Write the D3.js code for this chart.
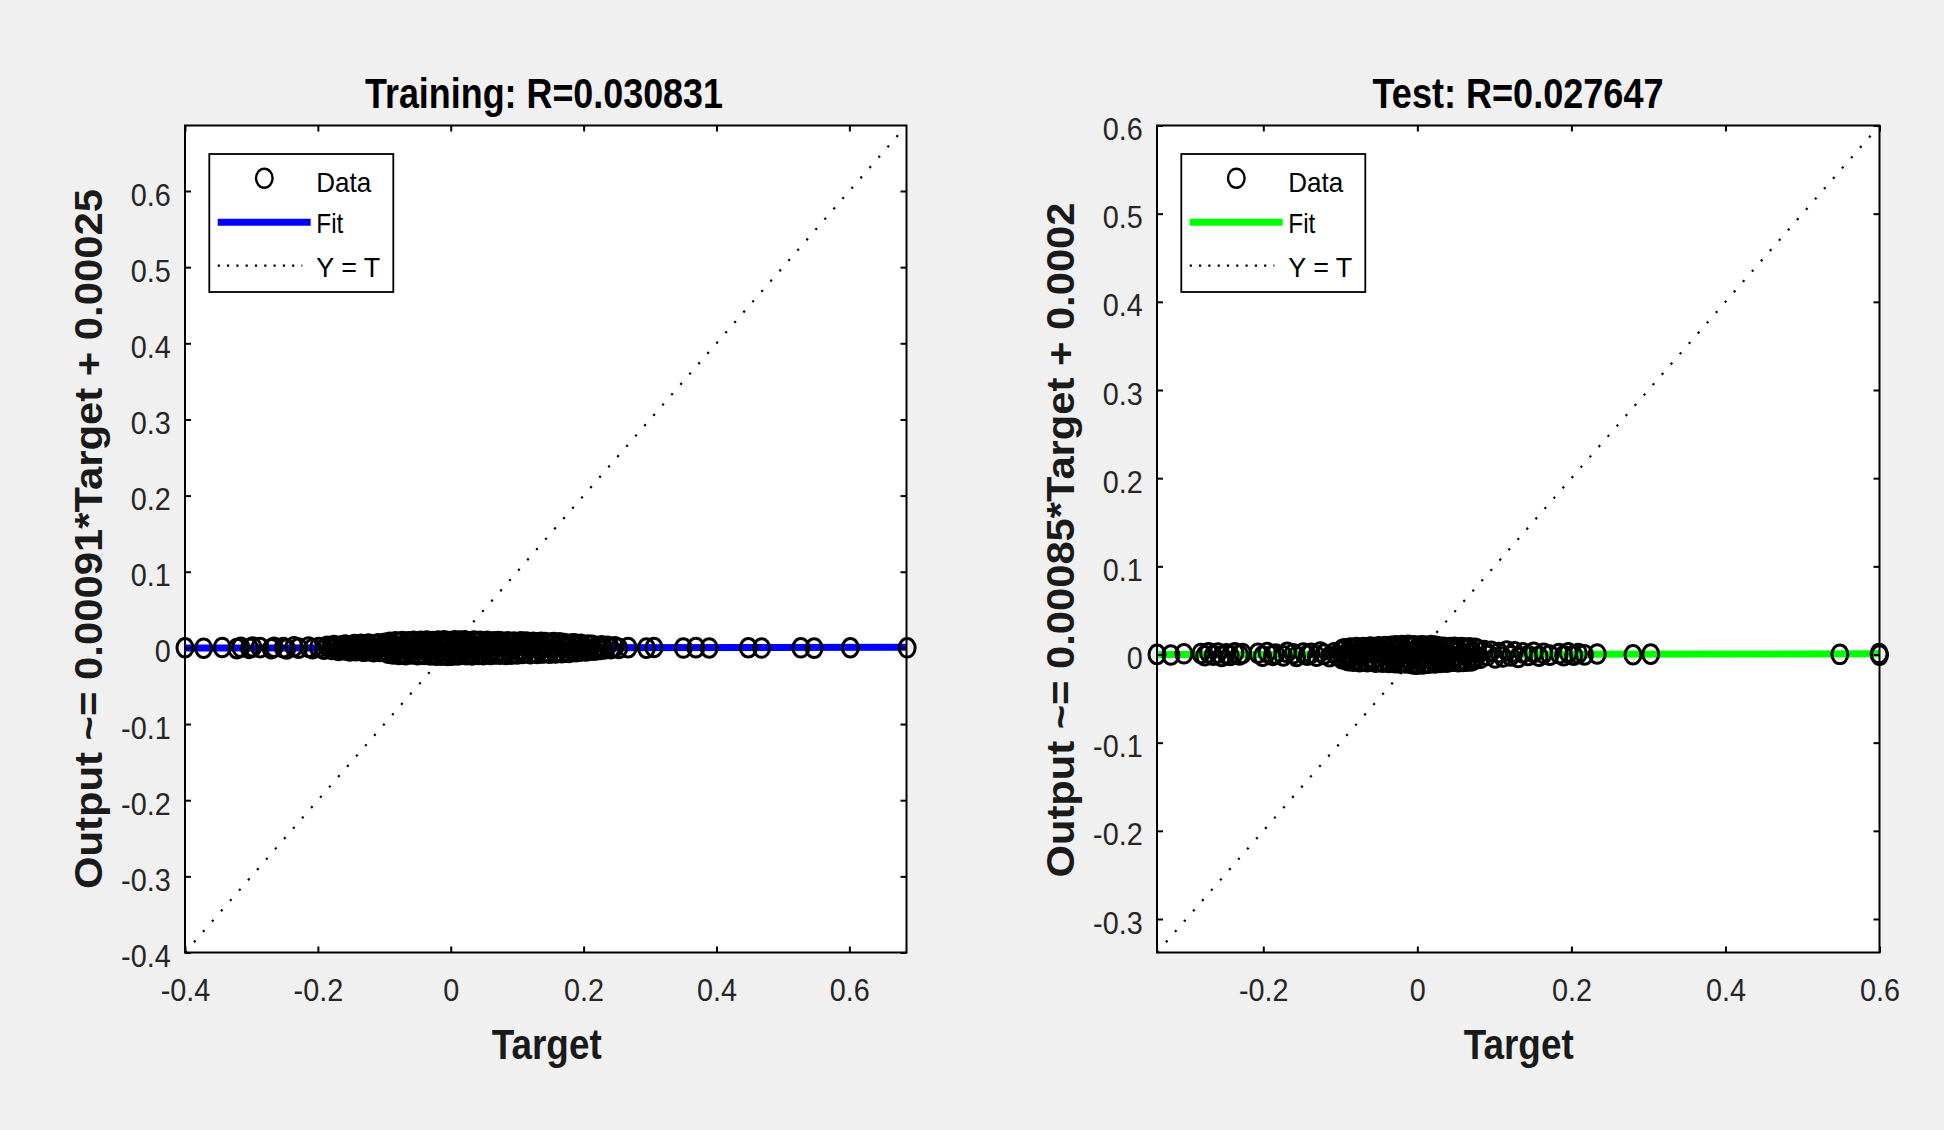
<!DOCTYPE html>
<html><head><meta charset="utf-8">
<script src="https://cdn.jsdelivr.net/npm/d3@7"></script>
<style>html,body{margin:0;padding:0;background:#f0f0f0;}svg{display:block;}</style>
</head><body>
<script>
// ---------- data (target, output) ----------
const trainData = [
[-0.400,0.0002],[-0.372,-0.0004],[-0.344,0.0006],[-0.322,-0.0010],[-0.316,0.0008],[-0.303,-0.0006],[-0.298,0.0012],[-0.287,0.0003],[-0.270,-0.0011],[-0.266,0.0009],
[-0.252,0.0004],[-0.247,-0.0014],[-0.236,0.0015],[-0.229,-0.0003],[-0.214,0.0010],[-0.208,-0.0012],[-0.199,0.0006],[-0.191,-0.0018],[-0.186,0.0021],
[-0.181,0.0012],[-0.179,-0.0021],[-0.176,0.0030],[-0.174,-0.0008],[-0.172,0.0017],[-0.169,-0.0034],[-0.167,0.0006],[-0.164,0.0026],[-0.162,-0.0019],[-0.159,0.0038],
[-0.157,-0.0029],[-0.155,0.0009],[-0.152,-0.0041],[-0.150,0.0022],[-0.147,-0.0012],[-0.145,0.0043],[-0.143,-0.0036],[-0.140,0.0015],[-0.138,-0.0024],[-0.135,0.0047],
[-0.133,-0.0005],[-0.131,-0.0045],[-0.128,0.0031],[-0.126,-0.0017],[-0.124,0.0052],[-0.121,-0.0039],[-0.119,0.0008],[-0.116,-0.0050],[-0.114,0.0041],[-0.112,-0.0011],
[-0.109,0.0055],[-0.107,-0.0047],[-0.104,0.0019],[-0.102,-0.0028],
[-0.099,0.0061],[-0.097,-0.0054],[-0.096,0.0012],[-0.094,-0.0069],[-0.092,0.0073],[-0.090,-0.0023],[-0.089,0.0044],[-0.087,-0.0078],[-0.085,0.0029],[-0.083,0.0080],
[-0.082,-0.0041],[-0.080,0.0008],[-0.078,-0.0085],[-0.077,0.0066],[-0.075,-0.0016],[-0.073,0.0083],[-0.071,-0.0062],[-0.070,0.0037],[-0.068,-0.0088],[-0.066,0.0021],
[-0.064,0.0079],[-0.063,-0.0034],[-0.061,0.0058],[-0.059,-0.0081],[-0.057,0.0005],[-0.056,0.0086],[-0.054,-0.0057],[-0.052,0.0031],[-0.050,-0.0090],[-0.049,0.0070],
[-0.047,-0.0013],[-0.045,0.0088],[-0.043,-0.0072],[-0.042,0.0046],[-0.040,-0.0087],[-0.038,0.0015],[-0.036,0.0091],[-0.035,-0.0049],[-0.033,0.0063],[-0.031,-0.0093],
[-0.029,0.0027],[-0.028,0.0084],[-0.026,-0.0067],[-0.024,0.0052],[-0.022,-0.0095],[-0.021,0.0009],[-0.019,0.0090],[-0.017,-0.0038],[-0.015,0.0071],[-0.014,-0.0097],
[-0.012,0.0036],[-0.010,0.0093],[-0.008,-0.0076],[-0.007,0.0018],[-0.005,-0.0099],[-0.003,0.0082],[-0.001,-0.0044],[0.000,0.0059],[0.002,-0.0096],[0.004,0.0024],
[0.006,0.0094],[0.007,-0.0061],[0.009,0.0047],[0.011,-0.0091],[0.013,0.0007],[0.014,0.0089],[0.016,-0.0080],[0.018,0.0033],[0.020,-0.0052],[0.021,0.0092],
[0.023,-0.0088],[0.025,0.0014],[0.027,0.0077],[0.028,-0.0070],[0.030,0.0050],[0.032,-0.0093],[0.034,0.0028],[0.035,0.0090],[0.037,-0.0039],[0.039,0.0066],
[0.041,-0.0085],[0.042,0.0003],[0.044,0.0087],[0.046,-0.0064],[0.048,0.0042],[0.049,-0.0089],[0.051,0.0075],[0.053,-0.0021],[0.055,0.0085],[0.056,-0.0074],
[0.058,0.0019],[0.060,-0.0087],[0.062,0.0068],[0.063,-0.0031],[0.065,0.0081],[0.067,-0.0079],[0.069,0.0035],[0.070,-0.0058],[0.072,0.0084],[0.074,-0.0083],
[0.076,0.0011],[0.077,0.0078],[0.079,-0.0068],[0.081,0.0049],[0.083,-0.0086],[0.084,0.0025],[0.086,0.0080],[0.088,-0.0046],[0.090,0.0063],[0.091,-0.0082],
[0.093,0.0006],[0.095,0.0076],[0.097,-0.0071],[0.098,0.0040],
[0.100,-0.0078],[0.102,0.0069],[0.104,-0.0025],[0.106,0.0080],[0.108,-0.0073],[0.110,0.0032],[0.112,-0.0064],[0.114,0.0077],[0.116,-0.0012],[0.118,0.0060],
[0.120,-0.0076],[0.122,0.0017],[0.124,0.0074],[0.126,-0.0056],[0.128,0.0045],[0.130,-0.0072],[0.132,0.0066],[0.134,-0.0030],[0.136,0.0073],[0.138,-0.0068],
[0.140,0.0008],[0.142,0.0070],[0.145,-0.0061],[0.147,0.0038],[0.149,-0.0070],[0.151,0.0064],[0.153,-0.0019],[0.155,0.0071],[0.158,-0.0065],[0.160,0.0026],
[0.162,-0.0048],[0.164,0.0067],[0.167,-0.0063],[0.169,0.0013],[0.171,0.0058],[0.174,-0.0057],[0.176,0.0041],[0.178,-0.0060],[0.181,0.0052],[0.183,-0.0022],
[0.186,0.0055],[0.188,-0.0050],[0.191,0.0029],[0.193,-0.0044],[0.196,0.0047],[0.199,-0.0036],[0.201,0.0010],[0.204,-0.0041],[0.207,0.0038],[0.210,-0.0026],
[0.213,0.0033],[0.216,-0.0031],[0.220,0.0018],[0.223,-0.0022],[0.227,0.0027],[0.231,-0.0015],[0.236,0.0020],[0.241,-0.0009],[0.247,0.0014],[0.253,-0.0006],
[0.267,0.0004],[0.2945,-0.0003],[0.306,0.0005],[0.350,-0.0002],[0.369,0.0003],[0.389,-0.0001],[0.448,0.0002],[0.468,-0.0002],[0.527,0.0001],[0.547,-0.0003],
[0.6015,0.0002],[0.687,0.0001]
];

const testData = [
[-0.338,0.0001],[-0.320,-0.0006],[-0.303,0.0008],
[-0.281,0.0012],[-0.276,-0.0015],[-0.271,0.0020],[-0.265,-0.0009],[-0.259,0.0016],[-0.254,-0.0021],[-0.248,0.0007],[-0.243,-0.0012],[-0.237,0.0019],[-0.231,-0.0004],[-0.227,0.0011],
[-0.207,0.0014],[-0.201,-0.0018],[-0.195,0.0022],[-0.188,-0.0010],[-0.184,0.0006],
[-0.174,-0.0016],[-0.169,0.0024],[-0.161,0.0009],[-0.157,-0.0022],[-0.148,0.0017],[-0.143,-0.0008],[-0.138,0.0013],[-0.131,-0.0019],[-0.126,0.0028],[-0.121,0.0004],
[-0.114,-0.0025],[-0.108,0.0020],[-0.104,-0.0013],
[-0.100,0.0035],[-0.098,-0.0047],[-0.097,0.0058],[-0.095,-0.0012],[-0.094,0.0066],[-0.092,-0.0061],[-0.090,0.0021],[-0.089,-0.0070],[-0.087,0.0072],[-0.086,-0.0030],
[-0.084,0.0049],[-0.083,-0.0076],[-0.081,0.0009],[-0.079,0.0078],[-0.078,-0.0055],[-0.076,0.0040],[-0.075,-0.0081],[-0.073,0.0063],[-0.072,-0.0018],[-0.070,0.0080],
[-0.068,-0.0069],[-0.067,0.0026],[-0.065,-0.0083],[-0.064,0.0071],[-0.062,-0.0038],[-0.061,0.0084],[-0.059,-0.0073],[-0.057,0.0015],[-0.056,0.0079],[-0.054,-0.0086],
[-0.053,0.0044],[-0.051,-0.0027],[-0.050,0.0086],[-0.048,-0.0079],[-0.046,0.0057],[-0.045,-0.0088],[-0.043,0.0022],[-0.042,0.0089],[-0.040,-0.0064],[-0.039,0.0068],
[-0.037,-0.0090],[-0.035,0.0031],[-0.034,0.0092],[-0.032,-0.0075],[-0.031,0.0051],[-0.029,-0.0093],[-0.028,0.0098],[-0.026,-0.0046],[-0.024,0.0075],[-0.023,-0.0095],
[-0.021,0.0012],[-0.020,0.0101],[-0.018,-0.0082],[-0.017,0.0060],[-0.015,-0.0097],[-0.013,0.0037],[-0.012,0.0103],[-0.010,-0.0068],[-0.009,0.0083],[-0.007,-0.0104],
[-0.006,0.0019],[-0.004,0.0099],[-0.002,-0.0110],[-0.001,0.0056],[0.001,-0.0108],[0.002,0.0091],[0.004,-0.0052],[0.005,0.0100],[0.007,-0.0106],[0.009,0.0028],
[0.010,0.0097],[0.012,-0.0091],[0.013,0.0065],[0.015,-0.0099],[0.016,0.0006],[0.018,0.0101],[0.020,-0.0077],[0.021,0.0047],[0.023,-0.0095],[0.024,0.0094],
[0.026,-0.0035],[0.027,0.0088],[0.029,-0.0089],[0.031,0.0024],[0.032,-0.0084],[0.034,0.0082],[0.035,-0.0058],[0.037,0.0061],[0.038,-0.0087],[0.040,0.0014],
[0.042,0.0079],[0.043,-0.0080],[0.045,0.0043],[0.046,-0.0072],[0.048,0.0083],[0.049,-0.0025],[0.051,0.0076],[0.053,-0.0083],[0.054,0.0033],[0.056,-0.0066],
[0.057,0.0080],[0.059,-0.0078],[0.060,0.0010],[0.062,0.0072],[0.064,-0.0075],[0.065,0.0054],[0.067,-0.0044],[0.068,0.0077],[0.070,-0.0073],[0.072,0.0026],
[0.073,-0.0062],[0.075,0.0069],[0.076,-0.0036],[0.078,0.0058],
[0.082,-0.0041],[0.087,0.0045],[0.091,-0.0012],[0.096,0.0036],[0.101,-0.0038],[0.106,0.0022],[0.111,-0.0029],[0.116,0.0040],[0.121,-0.0016],[0.126,0.0031],
[0.131,-0.0034],[0.137,0.0019],
[0.144,-0.0011],[0.151,0.0024],[0.158,-0.0020],[0.164,0.0013],[0.172,-0.0007],[0.184,0.0010],[0.190,-0.0015],[0.196,0.0018],[0.203,-0.0009],[0.209,0.0012],
[0.217,-0.0004],[0.2335,0.0006],[0.280,-0.0003],[0.303,0.0004],[0.5485,0.0002],[0.5995,0.0011],[0.600,-0.0007]
];

const trainXTicks = [-0.4, -0.2, 0, 0.2, 0.4, 0.6];
const trainYTicks = [-0.4, -0.3, -0.2, -0.1, 0, 0.1, 0.2, 0.3, 0.4, 0.5, 0.6];
const testXTicks = [-0.2, 0, 0.2, 0.4, 0.6];
const testYTicks = [-0.3, -0.2, -0.1, 0, 0.1, 0.2, 0.3, 0.4, 0.5, 0.6];
const trainLim = [-0.4, 0.686];
const testLim = [-0.338, 0.6];
const trainFit = [0.00091, 0.00025];   // slope, intercept
const testFit = [0.00085, 0.0002];
const titles = ["Training: R=0.030831", "Test: R=0.027647"];
const yLabels = ["Output ~= 0.00091*Target + 0.00025", "Output ~= 0.00085*Target + 0.0002"];
const xLabelText = "Target";
const legendLabels = ["Data", "Fit", "Y = T"];

// ---------- drawing ----------
const W = 1944, H = 1130;
const FONT = "'Liberation Sans', Arial, Helvetica, sans-serif";
const svg = d3.select("body").append("svg").attr("width", W).attr("height", H);
svg.append("rect").attr("width", W).attr("height", H).attr("fill", "#f0f0f0");

const fmt = d => String(+d.toFixed(1));

function drawPanel(p) {
  const g = svg.append("g");
  const x = d3.scaleLinear().domain(p.lim).range([p.left, p.right]);
  const y = d3.scaleLinear().domain(p.lim).range([p.bottom, p.top]);

  g.append("rect").attr("x", p.left).attr("y", p.top)
    .attr("width", p.right - p.left).attr("height", p.bottom - p.top).attr("fill", "#fff");

  // Y = T dotted line
  g.append("line")
    .attr("x1", x(p.lim[0])).attr("y1", y(p.lim[0]))
    .attr("x2", x(p.lim[1])).attr("y2", y(p.lim[1]))
    .attr("stroke", "#000").attr("stroke-width", 2.2).attr("stroke-dasharray", "2.2 11.5");

  // Fit line
  const fitLine = d3.line().x(d => x(d)).y(d => y(p.fit[0] * d + p.fit[1]));
  g.append("path").datum(p.lim).attr("d", fitLine)
    .attr("fill", "none").attr("stroke", p.color).attr("stroke-width", 7);

  // Data points
  g.append("g").selectAll("ellipse").data(p.data).join("ellipse")
    .attr("cx", d => x(d[0])).attr("cy", d => y(d[1]))
    .attr("rx", 8).attr("ry", 9.3)
    .attr("fill", "none").attr("stroke", "#000").attr("stroke-width", 3);

  // Axes
  const styleAxis = sel => {
    sel.select(".domain").remove();
    sel.attr("font-family", FONT).attr("font-size", 32);
    sel.selectAll(".tick line").attr("stroke", "#000").attr("stroke-width", 2);
  };
  const bx = g.append("g").attr("transform", `translate(0,${p.bottom})`)
    .call(d3.axisBottom(x).tickValues(p.xTicks).tickSizeInner(-6).tickSizeOuter(0).tickFormat(fmt));
  styleAxis(bx);
  bx.selectAll(".tick text").attr("y", 49).attr("dy", "0").attr("fill", "#262626")
    .attr("transform", "scale(0.9,1)");

  const tx = g.append("g").attr("transform", `translate(0,${p.top})`)
    .call(d3.axisTop(x).tickValues(p.xTicks).tickSizeInner(-6).tickSizeOuter(0).tickFormat(""));
  styleAxis(tx); tx.selectAll("text").remove();

  const ly = g.append("g").attr("transform", `translate(${p.left},0)`)
    .call(d3.axisLeft(y).tickValues(p.yTicks).tickSizeInner(-6).tickSizeOuter(0).tickFormat(fmt));
  styleAxis(ly);
  ly.selectAll(".tick text").attr("x", -14.3 / 0.9).attr("dy", "0.44em").attr("fill", "#262626")
    .attr("text-anchor", "end").attr("transform", "scale(0.9,1)");

  const ry = g.append("g").attr("transform", `translate(${p.right},0)`)
    .call(d3.axisRight(y).tickValues(p.yTicks).tickSizeInner(-6).tickSizeOuter(0).tickFormat(""));
  styleAxis(ry); ry.selectAll("text").remove();

  // Frame
  g.append("rect").attr("x", p.left).attr("y", p.top)
    .attr("width", p.right - p.left).attr("height", p.bottom - p.top)
    .attr("fill", "none").attr("stroke", "#000").attr("stroke-width", 2);

  // Title
  g.append("text").attr("x", p.titleX).attr("y", 108.3).attr("text-anchor", "middle")
    .attr("font-family", FONT).attr("font-weight", "bold").attr("font-size", 42)
    .attr("textLength", p.titleLen).attr("lengthAdjust", "spacingAndGlyphs")
    .attr("fill", "#000").text(p.title);

  // X label
  g.append("text").attr("x", p.xLabelX).attr("y", 1059).attr("text-anchor", "middle")
    .attr("font-family", FONT).attr("font-weight", "bold").attr("font-size", 42)
    .attr("textLength", 110).attr("lengthAdjust", "spacingAndGlyphs")
    .attr("fill", "#1a1a1a").text(xLabelText);

  // Y label
  g.append("text").attr("transform", `translate(${p.yLabelX},${p.yLabelY}) rotate(-90)`)
    .attr("text-anchor", "middle")
    .attr("font-family", FONT).attr("font-weight", "bold").attr("font-size", 38)
    .attr("textLength", p.yLabelLen).attr("lengthAdjust", "spacingAndGlyphs")
    .attr("fill", "#1a1a1a").text(p.yLabel);

  // Legend
  const lx = p.left + 24.3, lyy = p.top + 28.5;
  const lg = g.append("g");
  lg.append("rect").attr("x", lx).attr("y", lyy).attr("width", 184).attr("height", 138)
    .attr("fill", "#fff").attr("stroke", "#000").attr("stroke-width", 1.8);
  lg.append("ellipse").attr("cx", lx + 55).attr("cy", lyy + 24.3).attr("rx", 8.3).attr("ry", 9.5)
    .attr("fill", "none").attr("stroke", "#000").attr("stroke-width", 2.4);
  lg.append("line").attr("x1", lx + 8.4).attr("x2", lx + 101.4).attr("y1", lyy + 68.3).attr("y2", lyy + 68.3)
    .attr("stroke", p.color).attr("stroke-width", 7);
  lg.append("line").attr("x1", lx + 8.4).attr("x2", lx + 93).attr("y1", lyy + 111.7).attr("y2", lyy + 111.7)
    .attr("stroke", "#000").attr("stroke-width", 2.2).attr("stroke-dasharray", "2.2 7.1");
  const legY = [37.7, 79.3, 122.7], legW = [55, 27, 64];
  legendLabels.forEach((t, i) => {
    lg.append("text").attr("x", lx + 107).attr("y", lyy + legY[i])
      .attr("font-family", FONT).attr("font-size", 28)
      .attr("textLength", legW[i]).attr("lengthAdjust", "spacingAndGlyphs")
      .attr("fill", "#000").text(t);
  });
}

drawPanel({
  data: trainData, lim: trainLim, fit: trainFit, color: "#0000ff",
  xTicks: trainXTicks, yTicks: trainYTicks,
  left: 185, right: 906.5, top: 125.5, bottom: 952.5,
  title: titles[0], titleX: 544, titleLen: 358,
  xLabelX: 546.7, yLabel: yLabels[0], yLabelX: 102, yLabelY: 539, yLabelLen: 700
});
drawPanel({
  data: testData, lim: testLim, fit: testFit, color: "#00ff00",
  xTicks: testXTicks, yTicks: testYTicks,
  left: 1157, right: 1879.5, top: 125.5, bottom: 952.5,
  title: titles[1], titleX: 1518, titleLen: 291,
  xLabelX: 1518.7, yLabel: yLabels[1], yLabelX: 1074, yLabelY: 540, yLabelLen: 675
});
</script>
</body></html>
